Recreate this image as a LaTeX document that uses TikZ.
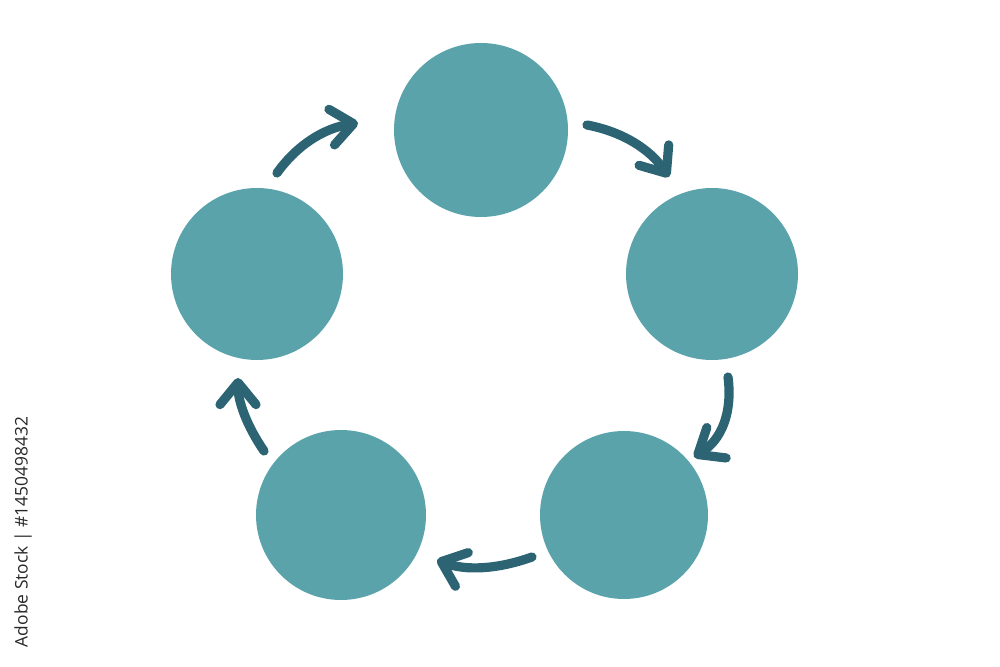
\documentclass[tikz,border=0pt]{standalone}
\usepackage{fontspec}
\newfontfamily\wmfont{Open Sans}
\usetikzlibrary{arrows.meta,calc}
\definecolor{disc}{RGB}{91,163,170}
\definecolor{arrowc}{RGB}{44,100,116}
\definecolor{wmtext}{RGB}{40,40,40}
\tikzset{
  disk/.style={circle,fill=disc,draw=none,inner sep=0pt,minimum size=#1},
  cyclearrow/.style={draw=arrowc,line width=4.6pt,line cap=round,line join=round,
    -{Straight Barb[length=11pt,width=18pt,line cap=round,line join=round]}},
}
\newcommand{\qarrow}[3]{%
  \draw[cyclearrow] (#1) .. controls ($(#1)!0.667!(#2)$) and ($(#3)!0.667!(#2)$) .. (#3);}
\begin{document}
\begin{tikzpicture}[x=0.5pt,y=-0.5pt]
\useasboundingbox (0,0) rectangle (1000,667);
\node[disk=87pt] (top) at (481,130) {};
\node[disk=86pt] (right) at (712,274) {};
\node[disk=86pt] (left) at (257,274) {};
\node[disk=85pt] (bl) at (341,515) {};
\node[disk=84pt] (br) at (624,515) {};
% arrow end points and bend points
\coordinate (a1s) at (277,173); \coordinate (a1c) at (307,131); \coordinate (a1e) at (358,123);
\coordinate (a2s) at (587,125); \coordinate (a2c) at (640,135); \coordinate (a2e) at (669,177);
\coordinate (a3s) at (728,377); \coordinate (a3c) at (735,431); \coordinate (a3e) at (694,457);
\coordinate (a4s) at (532,557); \coordinate (a4c) at (479,576); \coordinate (a4e) at (437,560);
\coordinate (a5s) at (264,451); \coordinate (a5c) at (238,413); \coordinate (a5e) at (238,378);
\qarrow{a1s}{a1c}{a1e}
\qarrow{a2s}{a2c}{a2e}
\qarrow{a3s}{a3c}{a3e}
\qarrow{a4s}{a4c}{a4e}
\qarrow{a5s}{a5c}{a5e}
\node[rotate=90,text=wmtext,font=\wmfont\fontsize{8.7}{10}\selectfont,inner sep=0pt] (wm) at (23,532) {Adobe Stock | \#1450498432};
\end{tikzpicture}
\end{document}
